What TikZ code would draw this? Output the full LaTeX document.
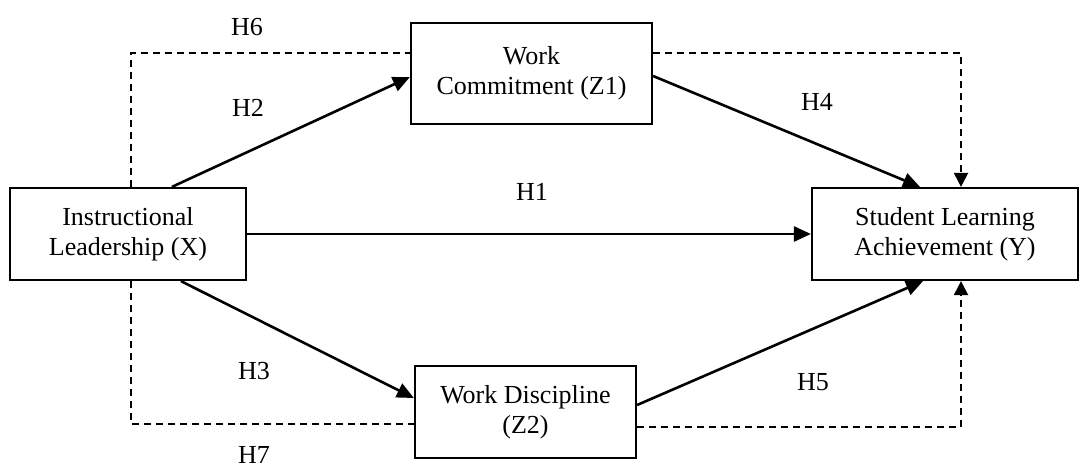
\documentclass[tikz,border=0pt]{standalone}
\usepackage{fontspec}
\setmainfont{Liberation Serif}
\usetikzlibrary{arrows.meta}
\begin{document}
\begin{tikzpicture}[x=1pt,y=-1pt,
  box/.style={draw,line width=2.2pt,align=center,inner sep=0pt,font=\fontsize{26}{30}\selectfont},
  lab/.style={font=\fontsize{26}{30}\selectfont,inner sep=0pt,anchor=base},
  arr/.style={line width=2.6pt,-{Triangle[length=17pt,width=15pt]}},
  dsh/.style={line width=2.2pt,dash pattern=on 7pt off 5pt},
  dtip/.style={-{Triangle[length=14pt,width=14pt]}}]
\useasboundingbox (0,0) rectangle (1081,463);
\node[box,minimum width=236pt,minimum height=92pt] (X) at (128,234) {Instructional\\Leadership (X)};
\node[box,minimum width=241pt,minimum height=101pt] (Z1) at (531.5,73.5) {Work\\Commitment (Z1)};
\node[box,minimum width=221pt,minimum height=92pt] (Z2) at (525.5,412) {Work Discipline\\(Z2)};
\node[box,minimum width=266pt,minimum height=92pt] (Y) at (945,234) {Student Learning\\Achievement (Y)};
% solid paths
\draw[arr] ([xshift=163pt]X.north west) -- ([yshift=-3.5pt]Z1.west);
\draw[arr] ([xshift=172pt]X.south west) -- ([yshift=14pt]Z2.west);
\draw[arr] (X.east) -- (Y.west);
\draw[arr] ([yshift=-2.5pt]Z1.east) -- ([xshift=-25pt]Y.north);
\draw[arr] ([yshift=7pt]Z2.east) -- ([xshift=-22pt]Y.south);
% dashed paths
\draw[dsh] ([xshift=122pt]X.north west) |- ([yshift=20.5pt]Z1.west);
\draw[dsh,dtip] ([yshift=20.5pt]Z1.east) -| ([xshift=16pt]Y.north);
\draw[dsh] ([xshift=122pt]X.south west) |- ([yshift=-12pt]Z2.west);
\draw[dsh,dtip] ([yshift=-15pt]Z2.east) -| ([xshift=16pt]Y.south);
% labels
\node[lab] (h6) at (247,35) {H6};
\node[lab] (h2) at (248,116) {H2};
\node[lab] (h1) at (532,200) {H1};
\node[lab] (h4) at (817,110) {H4};
\node[lab] (h3) at (254,379) {H3};
\node[lab] (h5) at (813,390) {H5};
\node[lab] (h7) at (254,463) {H7};
\end{tikzpicture}
\end{document}
